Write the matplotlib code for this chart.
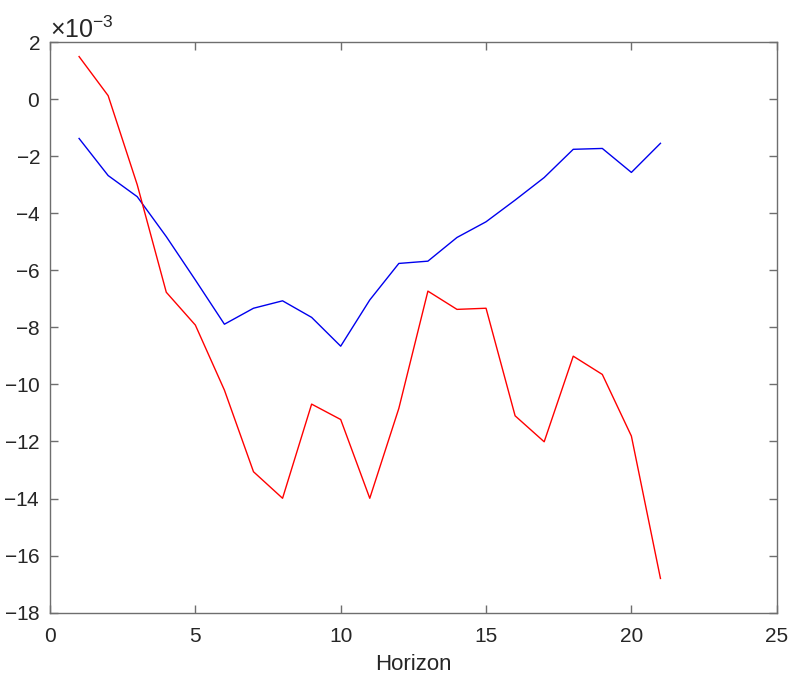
import matplotlib
matplotlib.use('Agg')
import matplotlib.pyplot as plt
import numpy as np

plt.rcParams['font.family'] = ['Liberation Sans', 'DejaVu Sans']
plt.rcParams['axes.unicode_minus'] = False
plt.rcParams['mathtext.default'] = 'regular'

# horizon steps and the two response series (values in units of 1e-3)
horizon = list(range(1, 22))
blue_vals = [-1.38, -2.68, -3.42, -4.82, -6.34, -7.89, -7.33, -7.07, -7.65, -8.66,
             -7.04, -5.76, -5.68, -4.85, -4.30, -3.54, -2.75, -1.76, -1.73, -2.57, -1.55]
red_vals = [1.49, 0.12, -3.0, -6.77, -7.92, -10.2, -13.06, -13.99, -10.69, -11.23,
            -13.99, -10.84, -6.73, -7.37, -7.33, -11.1, -12.01, -9.01, -9.65, -11.81, -16.8]

blue = np.array(blue_vals) * 1e-3
red = np.array(red_vals) * 1e-3

fig = plt.figure(figsize=(7.9, 6.81), dpi=100)
ax = fig.add_axes([0.0633, 0.1003, 0.9199, 0.838])

ax.plot(horizon, blue, color='#0000ee', linewidth=1.0)
ax.plot(horizon, red, color='#ff0000', linewidth=1.0)

ax.set_xlim(0, 25)
ax.set_ylim(-0.018, 0.002)
ax.set_xticks([0, 5, 10, 15, 20, 25])
ax.set_yticks(np.arange(-18, 3, 2) * 1e-3)

# force the x10^-3 multiplier like the original
fmt = matplotlib.ticker.ScalarFormatter(useMathText=True)
fmt.set_powerlimits((-3, -3))
ax.yaxis.set_major_formatter(fmt)
ax.yaxis.get_offset_text().set_fontsize(18)
ax.yaxis.get_offset_text().set_color('#262626')

for s in ax.spines.values():
    s.set_color('#6e6e6e')
    s.set_linewidth(1.0)

ax.tick_params(axis='both', direction='in', length=6, width=1, color='#6e6e6e',
               labelsize=15, labelcolor='#262626', top=True, right=True)
ax.tick_params(axis='x', pad=10)
ax.tick_params(axis='y', pad=7)

ax.set_xlabel('Horizon', fontsize=16, color='#262626', labelpad=6)

plt.savefig('out.png', dpi=100)
